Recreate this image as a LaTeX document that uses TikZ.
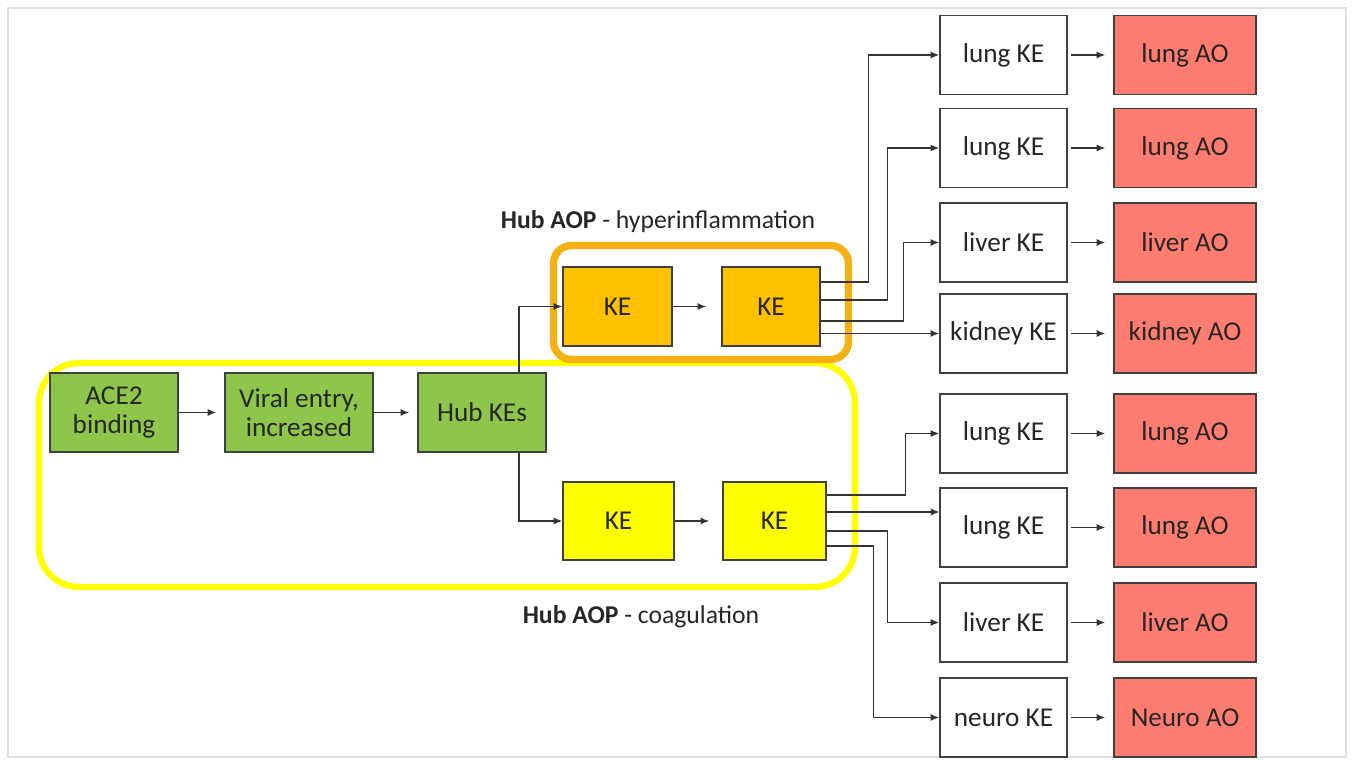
\documentclass[tikz,border=0pt]{standalone}
\usepackage{fontspec}
\setmainfont{Carlito}
\usetikzlibrary{arrows.meta}

\definecolor{hubgreen}{RGB}{141,198,74}
\definecolor{kegold}{RGB}{255,192,0}
\definecolor{frameorange}{RGB}{245,176,20}
\definecolor{frameyellow}{RGB}{255,255,0}
\definecolor{aored}{RGB}{255,124,112}
\definecolor{boxline}{RGB}{64,64,64}

\begin{document}
\begin{tikzpicture}[x=0.02cm, y=-0.02cm,
    box/.style={draw=boxline, line width=0.8pt, inner sep=0pt, align=center,
        text=black!85, font=\fontsize{15.5}{16.5}\selectfont},
    greenbox/.style={box, fill=hubgreen, minimum height=1.58cm},
    goldbox/.style={box, fill=kegold, minimum height=1.58cm},
    yellowbox/.style={box, fill=frameyellow, minimum height=1.56cm},
    kebox/.style={box, fill=white, minimum width=2.54cm, minimum height=1.58cm},
    aobox/.style={box, fill=aored, minimum width=2.84cm, minimum height=1.58cm},
    arr/.style={-{Latex[length=5pt,width=4pt]}, line width=0.8pt, draw=black!80},
    aoptitle/.style={font=\fontsize{14.6}{16}\selectfont, text=black!85}]
    \useasboundingbox (0,0) rectangle (1353,760);
    \draw[gray!25, line width=1pt] (8,8) rectangle (1346,757);

    % Hub AOP frames
    \draw[frameyellow, line width=3.6pt, rounded corners=0.8cm] (39,363) rectangle (855,587);
    \draw[frameorange, line width=4.2pt, rounded corners=0.36cm] (553.5,245.5) rectangle (848.5,359.5);
    \node[aoptitle] (hyptitle) at (658,222) {\textbf{Hub AOP} - hyperinflammation};
    \node[aoptitle] (coagtitle) at (641,617) {\textbf{Hub AOP} - coagulation};

    % Upstream chain
    \node[greenbox, minimum width=2.56cm] (ace) at (114,412.5) {ACE2\\binding};
    \node[greenbox, minimum width=2.96cm] (viral) at (299,412.5) {Viral entry,\\increased};
    \node[greenbox, minimum width=2.56cm] (hub) at (482,412.5) {Hub KEs};
    \draw[arr, shorten >=0.16cm] (ace) -- (viral);
    \draw[arr, shorten >=0.16cm] (viral) -- (hub);

    % Hub KEs
    \node[goldbox, minimum width=2.18cm] (okeA) at (617.5,306.5) {KE};
    \node[goldbox, minimum width=1.96cm] (okeB) at (771,306.5) {KE};
    \node[yellowbox, minimum width=2.22cm] (ykeA) at (618.5,521) {KE};
    \node[yellowbox, minimum width=2.06cm] (ykeB) at (774.5,521) {KE};
    \draw[arr, shorten >=0.3cm] (okeA) -- (okeB);
    \draw[arr, shorten >=0.26cm] (ykeA) -- (ykeB);
    \draw[arr] (hub.north) ++(37,0) |- (okeA.west);
    \draw[arr] (hub.south) ++(37,0) |- (ykeA.west);

    % Organ KEs and AOs
    \foreach \y/\ke/\ao [count=\i] in {55/lung/lung, 148/lung/lung, 242.5/liver/liver,
        333.5/kidney/kidney, 433.5/lung/lung, 527.5/lung/lung, 622.5/liver/liver,
        717.5/neuro/Neuro} {
        \node[kebox] (ke\i) at (1003.5,\y) {\ke\ KE};
        \node[aobox] (ao\i) at (1185,\y) {\ao\ AO};
        \draw[arr, shorten <=0.06cm, shorten >=0.16cm] (ke\i) -- (ao\i);
    }

    % hyperinflammation branches
    \draw[arr] (okeB.east) ++(0,-24.5) -- ++(48,0) |- (ke1.west);
    \draw[arr] (okeB.east) ++(0,-6.5) -- ++(67,0) |- (ke2.west);
    \draw[arr] (okeB.east) ++(0,14.5) -- ++(83,0) |- (ke3.west);
    \draw[arr] (okeB.east |- ke4) -- (ke4.west);

    % coagulation branches
    \draw[arr] (ykeB.east) ++(0,-26) -- ++(79,0) |- (ke5.west);
    \draw[arr] (ykeB.east) ++(0,-9) -- ++(113,0);
    \draw[arr] (ykeB.east) ++(0,10) -- ++(61,0) |- (ke7.west);
    \draw[arr] (ykeB.east) ++(0,25) -- ++(47,0) |- (ke8.west);
\end{tikzpicture}
\end{document}
